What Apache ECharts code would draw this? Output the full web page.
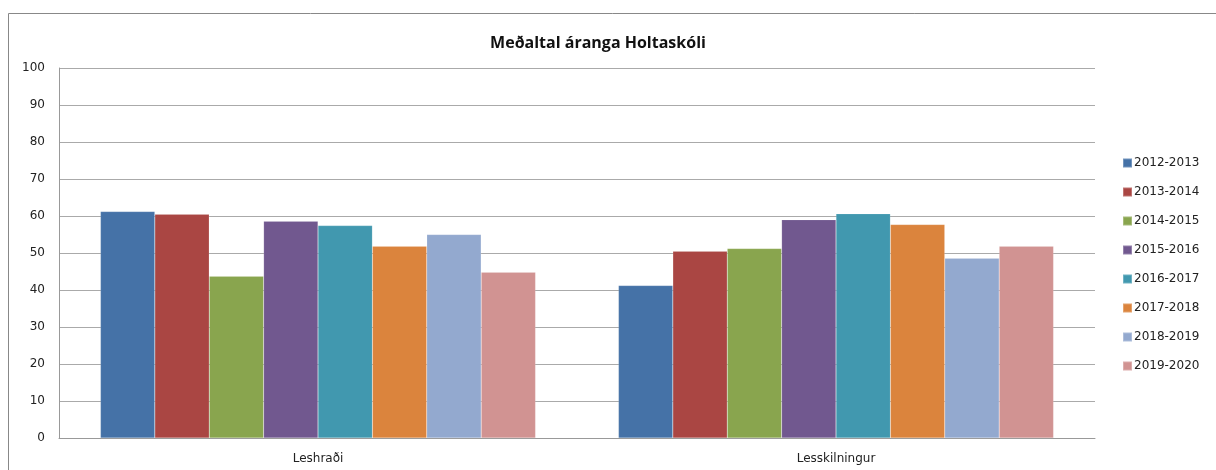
<!DOCTYPE html>
<html>
<head>
<meta charset="utf-8">
<script src="https://cdn.jsdelivr.net/npm/echarts@6/dist/echarts.min.js"></script>
<style>
  html, body { margin: 0; padding: 0; background: #fff; }
  #main { width: 1216px; height: 470px; }
</style>
</head>
<body>
<div id="main"></div>
<script>
// gögn lesin af myndinni
var categories = ['Leshraði', 'Lesskilningur'];
var years = ['2012-2013', '2013-2014', '2014-2015', '2015-2016', '2016-2017', '2017-2018', '2018-2019', '2019-2020'];
var colors = ['#4572a7', '#aa4643', '#89a54e', '#71588f', '#4198af', '#db843d', '#93a9cf', '#d19392'];
var values = [
    [61.2, 41.2],
    [60.5, 50.5],
    [43.7, 51.2],
    [58.6, 59.0],
    [57.4, 60.6],
    [51.8, 57.7],
    [55.0, 48.6],
    [44.8, 51.8]
];

var chart = echarts.init(document.getElementById('main'));

var series = years.map(function (y, i) {
    return {
        name: y,
        type: 'bar',
        barGap: '0%',
        barCategoryGap: '16%',
        itemStyle: { color: colors[i], borderColor: 'rgba(255,255,255,0.25)', borderWidth: 0.5 },
        data: values[i]
    };
});

var option = {
    animation: false,
    backgroundColor: '#fff',
    title: {
        text: 'Meðaltal áranga Holtaskóli',
        left: 593,
        top: 30,
        textAlign: 'center',
        textStyle: { fontFamily: 'Open Sans', fontSize: 16, fontWeight: 'bold', color: '#111' }
    },
    graphic: [{
        type: 'rect',
        shape: { x: 8.5, y: 13.5, width: 1220, height: 470 },
        style: { fill: 'none', stroke: '#888', lineWidth: 1 },
        silent: true
    }],
    legend: {
        orient: 'vertical',
        left: 1117,
        top: 152,
        itemWidth: 9,
        itemHeight: 9,
        itemGap: 17,
        icon: 'rect',
        textStyle: { fontFamily: 'DejaVu Sans', fontSize: 12, color: '#222', padding: [0, 0, 0, -3] },
        data: years
    },
    grid: { left: 59, right: 121, top: 68, bottom: 32 },
    xAxis: {
        type: 'category',
        data: categories,
        axisLine: { lineStyle: { color: '#999' } },
        axisTick: { show: false },
        axisLabel: { fontFamily: 'DejaVu Sans', fontSize: 12, color: '#222', margin: 15 }
    },
    yAxis: {
        type: 'value',
        min: 0,
        max: 100,
        interval: 10,
        axisLine: { show: true, lineStyle: { color: '#999' } },
        axisTick: { show: false },
        splitLine: { lineStyle: { color: '#aaa', width: 1 } },
        axisLabel: { fontFamily: 'DejaVu Sans', fontSize: 12, color: '#222', margin: 14 }
    },
    series: series
};

chart.setOption(option);
</script>
</body>
</html>
